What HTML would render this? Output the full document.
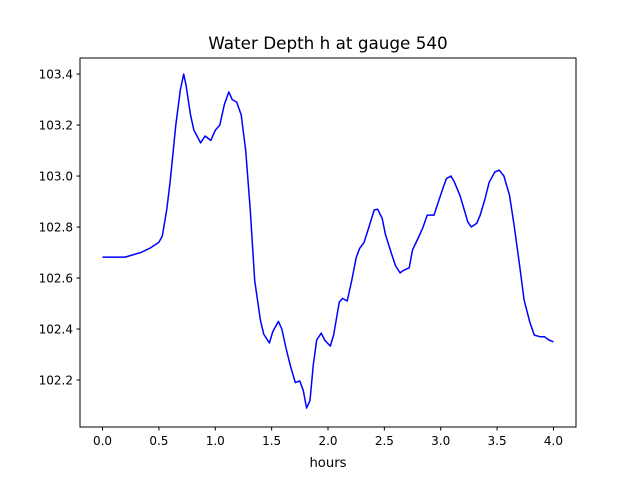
<!DOCTYPE html>
<html><head><meta charset="utf-8"><style>body{margin:0;background:#fff}svg{font-family:"DejaVu Sans","Liberation Sans",sans-serif}</style></head>
<body>
<svg id="chart" width="640" height="480" viewBox="0 0 640 480">
<rect width="640" height="480" fill="#fff"/>
<text x="328" y="49" font-size="16.8" text-anchor="middle">Water Depth h at gauge 540</text>
<g id="plot"></g>
<rect x="80" y="58" width="496" height="369" fill="none" stroke="#000" stroke-width="1"/>
<text x="328" y="467" font-size="13.2" text-anchor="middle">hours</text>
</svg>
<script>
const hours=[0,0.2,0.34,0.42,0.5,0.53,0.57,0.6,0.65,0.69,0.72,0.74,0.78,0.81,0.87,0.91,0.96,1.0,1.04,1.08,1.12,1.15,1.19,1.23,1.27,1.31,1.35,1.4,1.43,1.48,1.51,1.56,1.59,1.63,1.67,1.71,1.75,1.78,1.81,1.84,1.87,1.9,1.94,1.97,2.02,2.05,2.1,2.13,2.17,2.21,2.25,2.28,2.32,2.36,2.41,2.44,2.48,2.51,2.56,2.6,2.64,2.67,2.72,2.75,2.8,2.84,2.88,2.94,2.97,3.02,3.05,3.09,3.12,3.17,3.2,3.24,3.27,3.32,3.35,3.39,3.43,3.48,3.52,3.56,3.61,3.65,3.7,3.74,3.79,3.83,3.88,3.92,3.96,4.0];
const depth=[102.682,102.682,102.70,102.717,102.74,102.765,102.87,102.98,103.2,103.337,103.4,103.357,103.24,103.18,103.13,103.157,103.14,103.18,103.2,103.28,103.33,103.3,103.29,103.24,103.1,102.87,102.59,102.435,102.38,102.345,102.39,102.43,102.4,102.32,102.25,102.19,102.196,102.16,102.09,102.12,102.26,102.357,102.384,102.357,102.333,102.376,102.506,102.52,102.51,102.59,102.68,102.716,102.74,102.796,102.867,102.87,102.835,102.77,102.7,102.647,102.62,102.63,102.64,102.71,102.757,102.796,102.847,102.847,102.886,102.953,102.99,103.0,102.977,102.925,102.88,102.82,102.8,102.815,102.847,102.906,102.976,103.016,103.023,103.0,102.925,102.81,102.65,102.514,102.427,102.376,102.37,102.37,102.357,102.35];
const xTicks=[0.0,0.5,1.0,1.5,2.0,2.5,3.0,3.5,4.0];
const yTicks=[102.2,102.4,102.6,102.8,103.0,103.2,103.4];
const X0=-0.2,X1=4.2,Y0=102.0157,Y1=103.463;
const xs=v=>80+(v-X0)/(X1-X0)*496;
const ys=v=>427-(v-Y0)/(Y1-Y0)*369;
const NS="http://www.w3.org/2000/svg";
const g=document.getElementById('plot');
function mk(t,a){const e=document.createElementNS(NS,t);for(const k in a)e.setAttribute(k,a[k]);g.appendChild(e);return e;}
xTicks.forEach(t=>{
  const l=mk('line',{x1:xs(t),x2:xs(t),y1:427,y2:430.5,stroke:'#000'});
  
  
  const s=mk('text',{x:xs(t),y:445,'font-size':12,'text-anchor':'middle'});
  s.textContent=t.toFixed(1);
  
  
});
yTicks.forEach(t=>{
  const l=mk('line',{x1:76.5,x2:80,y1:ys(t),y2:ys(t),stroke:'#000'});
  
  
  const s=mk('text',{x:73,y:ys(t)+4.3,'font-size':12,'text-anchor':'end'});
  s.textContent=t.toFixed(1);
  
  
});
const p=mk('polyline',{points:hours.map((h,i)=>xs(h).toFixed(1)+','+ys(depth[i]).toFixed(1)).join(' '),fill:'none',stroke:'#0000ff','stroke-width':1.5,'stroke-linejoin':'round'});


</script>
</body></html>
